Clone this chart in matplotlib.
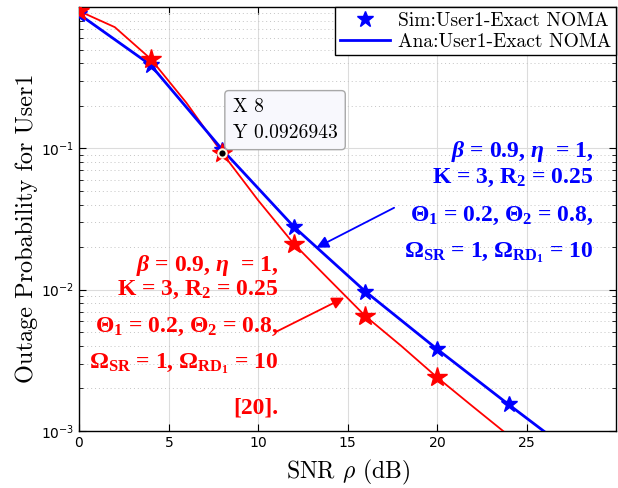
import matplotlib
matplotlib.use("Agg")
import matplotlib.pyplot as plt
from matplotlib.ticker import LogLocator, NullFormatter

# ---------------- data ----------------
snr_sim = [0, 4, 8, 12, 16, 20, 24]
blue_sim = [0.89, 0.389, 0.098, 0.0279, 0.0097, 0.0038, 0.00154]
snr_ana = [0, 4, 8, 12, 16, 20, 24, 26]
blue_ana = [0.89, 0.389, 0.098, 0.0279, 0.0097, 0.0038, 0.00154, 0.00099]

red_mk_x = [0, 4, 8, 12, 16, 20]
red_mk_y = [0.937, 0.43, 0.0927, 0.0211, 0.0065, 0.0024]
red_line_x = [0, 2, 4, 6, 8, 10, 12, 14, 16, 18, 20, 22, 24]
red_line_y = [0.937, 0.72, 0.43, 0.21, 0.0927, 0.043, 0.0211, 0.0117,
              0.0065, 0.0040, 0.0024, 0.00149, 0.00093]

tip_x, tip_y = 8, 0.0926943
legend_labels = ["Sim:User1-Exact NOMA", "Ana:User1-Exact NOMA"]
xticks = [0, 5, 10, 15, 20, 25]

plt.rcParams['mathtext.fontset'] = 'dejavusans'
plt.rcParams['mathtext.rm'] = 'Liberation Serif:bold'
plt.rcParams['mathtext.it'] = 'Liberation Serif:bold:italic'
plt.rcParams['mathtext.bf'] = 'Liberation Serif:bold'
plt.rcParams['axes.formatter.use_mathtext'] = True

fig = plt.figure(figsize=(6.18, 4.88), dpi=100)
ax = fig.add_axes([79/618, 57/488, (616-79)/618, (431-7)/488])

ax.plot(red_line_x, red_line_y, color='red', lw=1.3, zorder=3)
ax.plot(snr_ana, blue_ana, color='blue', lw=2.0, zorder=4, label=legend_labels[1])
ax.plot(snr_sim, blue_sim, linestyle='none', marker='*', ms=12, color='blue',
        zorder=5, label=legend_labels[0])
ax.plot(red_mk_x, red_mk_y, linestyle='none', marker='*', ms=15, color='red', zorder=6)

ax.set_yscale('log')
ax.set_xlim(0, 30)
ax.set_ylim(1e-3, 1)
ax.set_xticks(xticks)
ax.yaxis.set_minor_locator(LogLocator(base=10, subs=range(2, 10), numticks=20))
ax.yaxis.set_minor_formatter(NullFormatter())
ax.set_yticks([1e-3, 1e-2, 1e-1])

ax.grid(True, which='major', color='#dcdcdc', lw=0.8, linestyle='-')
ax.grid(True, which='minor', axis='y', color='#c4c4c4', lw=0.7, linestyle=(0, (1, 3)))
ax.set_axisbelow(True)
ax.tick_params(which='both', direction='in', top=True, right=True)
ax.tick_params(which='major', length=5, labelsize=10)
ax.tick_params(which='minor', length=3)
for s in ax.spines.values():
    s.set_linewidth(1.0)

ax.set_xlabel(r"SNR $\rho$ (dB)", family='cmr10', fontsize=17, math_fontfamily='cm', labelpad=6)
ax.set_ylabel("Outage Probability for User1", family='cmr10', fontsize=17.5)
ax.yaxis.set_label_coords((38 - 79) / 537, 0.479)

h, l = ax.get_legend_handles_labels()
leg = ax.legend([h[1], h[0]], [l[1], l[0]], loc='upper right', fancybox=False,
                framealpha=1, edgecolor='black', borderaxespad=0.0,
                prop={'family': 'cmr10', 'size': 14}, handlelength=2.6,
                handletextpad=0.4, borderpad=0.25, labelspacing=0.15)
leg.get_frame().set_linewidth(1.0)

# data tip
ax.plot([tip_x], [tip_y], marker='o', ms=6, mfc='black', mec='#fffbe0', mew=1.5, zorder=8)
ax.annotate(f"X {tip_x}\nY {tip_y}", xy=(tip_x, tip_y), xytext=(7.5, 8),
            textcoords='offset points', ha='left', va='bottom', family='cmr10',
            fontsize=14, linespacing=1.55,
            bbox=dict(boxstyle='round,pad=0.4,rounding_size=0.2', fc='#f8f8fd', ec='#a8a8a8', lw=1),
            zorder=9)

def annot(lines, ys, xr, color):
    for t, y in zip(lines, ys):
        ax.text(xr, y, t, color=color, ha='right', va='center', family='Liberation Serif',
                fontweight='bold', fontsize=17, math_fontfamily='custom',
                transform=ax.transData, zorder=7)

lines = [r"$\beta$ = 0.9, $\eta$  = 1,",
         r"K = 3, R$_2$ = 0.25",
         r"$\Theta_1$ = 0.2, $\Theta_2$ = 0.8,",
         r"$\Omega_{\mathrm{SR}}$ = 1, $\Omega_{\mathrm{RD}_1}$ = 10"]

def px2y(py):
    return 10 ** (-(py - 7) / 141.5)

def px2x(px):
    return (px - 79) / 17.95

annot(lines, [px2y(152), px2y(178), px2y(216), px2y(253)], px2x(595), 'blue')
annot(lines + ["[20]."], [px2y(266), px2y(290), px2y(327), px2y(364), px2y(408)], px2x(279), 'red')

ax.annotate("", xy=(px2x(317), px2y(248)), xytext=(px2x(395), px2y(208)),
            arrowprops=dict(arrowstyle='-|>', color='blue', lw=1.3, mutation_scale=18,
                            shrinkA=0, shrinkB=0), zorder=7)
ax.annotate("", xy=(px2x(345), px2y(298)), xytext=(px2x(277), px2y(332)),
            arrowprops=dict(arrowstyle='-|>', color='red', lw=1.3, mutation_scale=18,
                            shrinkA=0, shrinkB=0), zorder=7)

fig.savefig("out.png", dpi=100)
